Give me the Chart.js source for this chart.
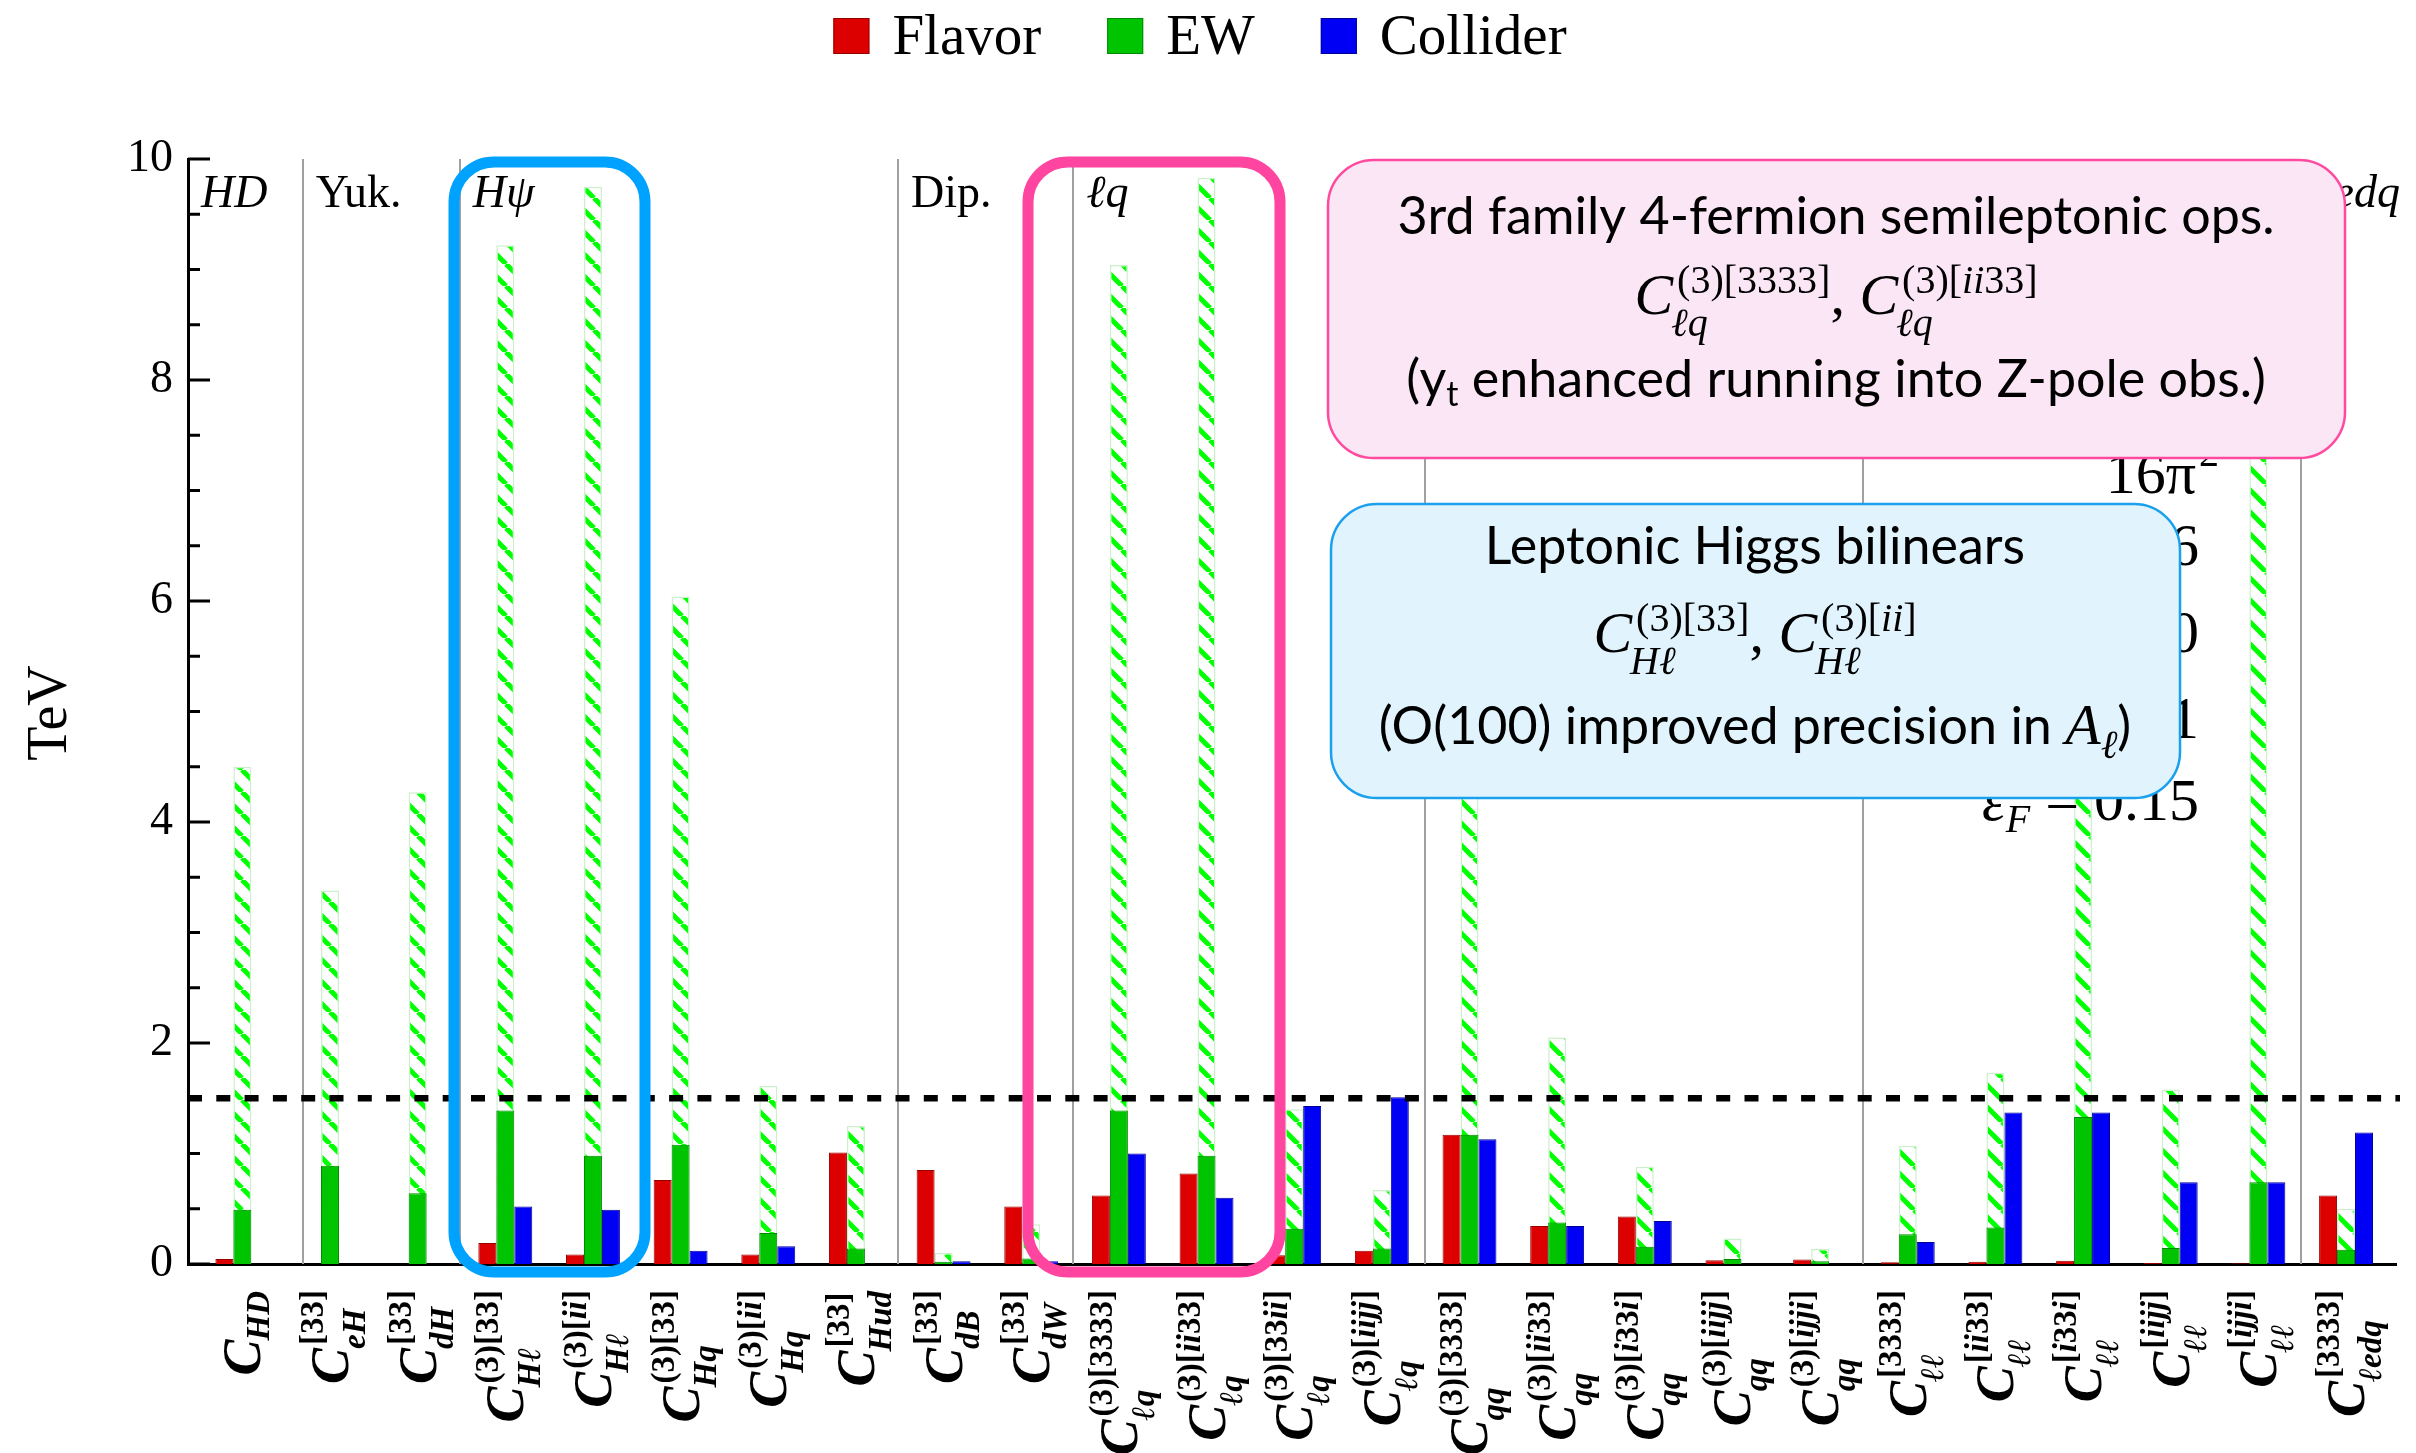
<!DOCTYPE html>
<html>
<head>
<meta charset="utf-8">
<script src="https://cdn.jsdelivr.net/npm/chart.js@4.4.1/dist/chart.umd.min.js"></script>
<style>
  html, body { margin: 0; padding: 0; background: #fff; }
</style>
</head>
<body>
<canvas id="chart" width="2416" height="1453"></canvas>
<script>
// data (TeV)
const categories = ['C_HD', 'C_eH[33]', 'C_dH[33]', 'C_Hl(3)[33]', 'C_Hl(3)[ii]', 'C_Hq(3)[33]', 'C_Hq(3)[ii]',
  'C_Hud[33]', 'C_dB[33]', 'C_dW[33]', 'C_lq(3)[3333]', 'C_lq(3)[ii33]', 'C_lq(3)[33ii]', 'C_lq(3)[iijj]',
  'C_qq(3)[3333]', 'C_qq(3)[ii33]', 'C_qq(3)[i33i]', 'C_qq(3)[iijj]', 'C_qq(3)[ijji]',
  'C_ll[3333]', 'C_ll[ii33]', 'C_ll[i33i]', 'C_ll[iijj]', 'C_ll[ijji]', 'C_ledq[3333]'];
const catSub = ['HD', 'eH', 'dH', 'Hℓ', 'Hℓ', 'Hq', 'Hq', 'Hud', 'dB', 'dW', 'ℓq', 'ℓq', 'ℓq', 'ℓq',
  'qq', 'qq', 'qq', 'qq', 'qq', 'ℓℓ', 'ℓℓ', 'ℓℓ', 'ℓℓ', 'ℓℓ', 'ℓedq'];
const catSup = ['', '[33]', '[33]', '(3)[33]', '(3)[ii]', '(3)[33]', '(3)[ii]', '[33]', '[33]', '[33]',
  '(3)[3333]', '(3)[ii33]', '(3)[33ii]', '(3)[iijj]', '(3)[3333]', '(3)[ii33]', '(3)[i33i]', '(3)[iijj]', '(3)[ijji]',
  '[3333]', '[ii33]', '[i33i]', '[iijj]', '[ijji]', '[3333]'];

const flavor   = [0.045, 0, 0, 0.19, 0.085, 0.76, 0.085, 1.01, 0.85, 0.52, 0.62, 0.82, 0.08, 0.12,
  1.17, 0.345, 0.43, 0.033, 0.04, 0.015, 0.02, 0.03, 0.01, 0.006, 0.62];
const ew       = [0.49, 0.89, 0.64, 1.39, 0.98, 1.08, 0.28, 0.14, 0.02, 0.05, 1.39, 0.98, 0.32, 0.14,
  1.17, 0.375, 0.155, 0.045, 0.025, 0.27, 0.33, 1.33, 0.145, 0.74, 0.13];
const collider = [0, 0, 0, 0.52, 0.49, 0.12, 0.16, 0, 0.025, 0.025, 1.0, 0.6, 1.43, 1.51,
  1.13, 0.345, 0.39, 0, 0, 0.2, 1.37, 1.37, 0.74, 0.74, 1.19];
const ewFuture = [4.5, 3.38, 4.27, 9.22, 9.75, 6.04, 1.61, 1.25, 0.10, 0.36, 9.04, 9.83, 1.40, 0.67,
  5.5, 2.05, 0.88, 0.23, 0.136, 1.07, 1.73, 5.0, 1.58, 8.3, 0.50];

const seriesNames = ['Flavor', 'EW', 'Collider'];
const threshold = 1.5;

// operator classes: name + where the class starts (category units)
const groupNames  = ['HD', 'Yuk.', 'Hψ', 'Dip.', 'ℓq', 'qq', 'ℓℓ', 'ℓedq'];
const groupItalic = [true, false, true, false, true, true, true, true];
const groupStarts = [-0.62, 0.69, 2.48, 7.48, 9.48, 13.49, 18.49, 23.49];

const RED = '#dd0000', GREEN = '#00c400', BLUE = '#0000f5';
const SERIF = '"Liberation Serif","DejaVu Serif",serif';
const SANS = 'Lato,"Open Sans",sans-serif';

function fontStr(size, italic, bold, fam) {
  return (italic ? 'italic ' : '') + (bold ? 'bold ' : '') + size + 'px ' + (fam || SERIF);
}

const canvas = document.getElementById('chart');
const ctx = canvas.getContext('2d');

// green hatching for the projected EW reach
function makeHatch() {
  const s = 22;
  const c = document.createElement('canvas');
  c.width = c.height = s;
  const g = c.getContext('2d');
  g.fillStyle = '#fff';
  g.fillRect(0, 0, s, s);
  g.strokeStyle = '#00ff00';
  g.lineWidth = 5;
  g.beginPath();
  for (const k of [-s, 0, s]) { g.moveTo(k, 0); g.lineTo(k + s, s); }
  g.stroke();
  return ctx.createPattern(c, 'repeat');
}

// text with letters in italic and digits/brackets upright
function mixed(c, text, x, y, size, bold, draw) {
  const runs = [];
  for (const ch of text) {
    const it = /[A-Za-zℓψπε]/.test(ch);
    if (runs.length && runs[runs.length - 1].it === it) runs[runs.length - 1].t += ch;
    else runs.push({ t: ch, it });
  }
  let w = 0;
  for (const r of runs) {
    c.font = fontStr(size, r.it, bold);
    if (draw) c.fillText(r.t, x + w, y);
    w += c.measureText(r.t).width;
  }
  return w;
}

// C with super- and subscript stacked
function scriptC(c, x, y, s, draw) {
  c.font = fontStr(s.size, true, s.bold);
  const wb = c.measureText(s.base).width;
  if (draw) c.fillText(s.base, x, y);
  const xs = x + wb;
  const sh = s.supShift || 0;
  const wsup = s.sup ? mixed(c, s.sup, xs + sh, y - s.rise, s.ssize, s.bold, draw) + sh : 0;
  const wsub = s.sub ? mixed(c, s.sub, xs - (s.subShift || 0), y + (s.sup ? s.drop : s.drop0), s.ssize, s.bold, draw) : 0;
  return wb + Math.max(wsup, wsub);
}

function rich(c, parts, x, y, draw) {
  let w = 0;
  for (const p of parts) {
    if (p.c) { w += scriptC(c, x + w, y, p.c, draw); continue; }
    c.font = p.font;
    if (draw) c.fillText(p.t, x + w, y + (p.dy || 0));
    w += c.measureText(p.t).width;
  }
  return w;
}

function richAt(c, parts, x, y, align) {
  const w = rich(c, parts, 0, y, false);
  const x0 = align === 'center' ? x - w / 2 : align === 'right' ? x - w : x;
  rich(c, parts, x0, y, true);
}

function roundRect(c, x0, y0, x1, y1, r) {
  c.beginPath();
  c.moveTo(x0 + r, y0);
  c.lineTo(x1 - r, y0);
  c.arcTo(x1, y0, x1, y0 + r, r);
  c.lineTo(x1, y1 - r);
  c.arcTo(x1, y1, x1 - r, y1, r);
  c.lineTo(x0 + r, y1);
  c.arcTo(x0, y1, x0, y1 - r, r);
  c.lineTo(x0, y0 + r);
  c.arcTo(x0, y0, x0 + r, y0, r);
  c.closePath();
}

const decor = {
  id: 'decor',
  beforeDatasetsDraw(chart) {
    const { ctx: c, scales: { x, y } } = chart;
    c.save();
    c.strokeStyle = '#a0a0a0';
    c.lineWidth = 2;
    groupStarts.slice(1).forEach(v => {
      const px = Math.round(x.getPixelForValue(v));
      c.beginPath();
      c.moveTo(px, y.getPixelForValue(0));
      c.lineTo(px, y.getPixelForValue(10));
      c.stroke();
    });
    c.restore();
  },
  afterDatasetsDraw(chart) {
    const { ctx: c, chartArea: a, scales: { x, y } } = chart;
    c.save();

    // threshold line
    c.strokeStyle = '#000';
    c.lineWidth = 6.5;
    c.setLineDash([14, 14.3]);
    c.beginPath();
    const yt = y.getPixelForValue(threshold);
    c.moveTo(a.left, yt);
    c.lineTo(a.right + 4, yt);
    c.stroke();
    c.setLineDash([]);

    // inward ticks on the value axis
    c.lineWidth = 3;
    for (let v = 0; v <= 10; v += 0.5) {
      const py = y.getPixelForValue(v);
      const len = v % 2 === 0 ? 22 : 12;
      c.beginPath();
      c.moveTo(a.left, py);
      c.lineTo(a.left + len, py);
      c.stroke();
    }

    // class names
    c.fillStyle = '#000';
    c.textBaseline = 'alphabetic';
    c.textAlign = 'left';
    groupNames.forEach((n, i) => {
      const px = Math.max(a.left, x.getPixelForValue(groupStarts[i])) + 13;
      c.font = fontStr(46, groupItalic[i], false);
      c.fillText(n, px, 207);
    });

    // parameter notes (mostly hidden behind the boxes)
    c.font = fontStr(60, false, false);
    c.textAlign = 'right';
    c.fillText('16π', 2196, 493);
    c.font = fontStr(40, false, false);
    c.fillText('2', 2219, 466);
    c.font = fontStr(60, false, false);
    c.fillText('6', 2199, 565);
    c.fillText('10', 2199, 652);
    c.fillText('1', 2199, 738);
    c.textAlign = 'left';
    richAt(c, [
      { t: 'ε', font: fontStr(60, true, false) },
      { t: 'F', font: fontStr(40, true, false), dy: 12 },
      { t: ' = 0.15', font: fontStr(60, false, false) }
    ], 2199, 820, 'right');

    // highlight frames
    c.lineWidth = 11;
    c.strokeStyle = '#00a2ff';
    roundRect(c, 454, 162, 645, 1272, 40);
    c.stroke();
    c.strokeStyle = '#ff45a0';
    roundRect(c, 1028, 162, 1280, 1272, 40);
    c.stroke();

    // annotation boxes
    c.lineWidth = 2.5;
    roundRect(c, 1328, 160, 2345, 458, 46);
    c.fillStyle = '#fbe6f5';
    c.fill();
    c.strokeStyle = '#ff4aa0';
    c.stroke();
    roundRect(c, 1331, 504, 2180, 798, 46);
    c.fillStyle = '#e1f4fd';
    c.fill();
    c.strokeStyle = '#1ba0ee';
    c.stroke();

    c.fillStyle = '#000';
    c.font = '48px ' + SANS;
    const sz = Math.round(48 * 875 / c.measureText('3rd family 4-fermion semileptonic ops.').width);
    const sans = fontStr(sz, false, false, SANS);
    const boxC = (sup, sub) => ({ c: { base: 'C', sup, sub, size: 58, ssize: 40, bold: false, rise: 21, drop: 22, supShift: 4, subShift: 2 } });
    const comma = { t: ', ', font: fontStr(58, false, false) };

    richAt(c, [{ t: '3rd family 4-fermion semileptonic ops.', font: sans }], 1836, 234, 'center');
    richAt(c, [boxC('(3)[3333]', 'ℓq'), comma, boxC('(3)[ii33]', 'ℓq')], 1836, 314, 'center');
    richAt(c, [
      { t: '(y', font: sans },
      { t: 't', font: fontStr(Math.round(sz * 0.65), false, false, SANS), dy: 9 },
      { t: ' enhanced running into Z-pole obs.)', font: sans }
    ], 1836, 397, 'center');

    richAt(c, [{ t: 'Leptonic Higgs bilinears', font: sans }], 1755, 564, 'center');
    richAt(c, [boxC('(3)[33]', 'Hℓ'), comma, boxC('(3)[ii]', 'Hℓ')], 1755, 652, 'center');
    richAt(c, [
      { t: '(O(100) improved precision in ', font: sans },
      { t: 'A', font: fontStr(58, true, false) },
      { t: 'ℓ', font: fontStr(40, true, false), dy: 14 },
      { t: ')', font: sans }
    ], 1755, 744, 'center');

    c.restore();
  },
  afterDraw(chart) {
    const { ctx: c, scales: { x } } = chart;
    c.save();
    c.fillStyle = '#000';
    c.textBaseline = 'alphabetic';
    c.textAlign = 'left';

    // rotated operator labels
    categories.forEach((name, i) => {
      const spec = { base: 'C', sup: catSup[i], sub: catSub[i], size: 54, ssize: 33, bold: true,
        rise: 25, drop: 17, drop0: 9, supShift: 3, subShift: 1 };
      const w = scriptC(c, 0, 0, spec, false);
      c.save();
      c.translate(x.getPixelForValue(i), 1290);
      c.rotate(-Math.PI / 2);
      scriptC(c, -w, 18, spec, true);
      c.restore();
    });

    // axis title
    c.save();
    c.translate(51, 713);
    c.rotate(-Math.PI / 2);
    c.font = fontStr(56, false, false);
    c.textAlign = 'center';
    c.textBaseline = 'middle';
    c.fillText('TeV', 0, 0);
    c.restore();

    // legend
    const colors = [RED, GREEN, BLUE];
    const edges = ['#990000', '#008800', '#000099'];
    c.font = fontStr(57, false, false);
    const widths = seriesNames.map(n => c.measureText(n).width);
    const total = widths.reduce((s, w) => s + 36 + 23 + w, 0) + 66 * (seriesNames.length - 1);
    let lx = 1200 - total / 2;
    seriesNames.forEach((n, i) => {
      c.fillStyle = colors[i];
      c.fillRect(lx, 18, 36, 36);
      c.strokeStyle = edges[i];
      c.lineWidth = 1;
      c.strokeRect(lx + 0.5, 18.5, 35, 35);
      c.fillStyle = '#000';
      c.fillText(n, lx + 59, 54);
      lx += 59 + widths[i] + 66;
    });
    c.restore();
  }
};

const xy = arr => arr.map((v, i) => ({ x: i, y: v }));

new Chart(ctx, {
  type: 'bar',
  data: {
    datasets: [
      { label: seriesNames[0], data: xy(flavor), backgroundColor: RED, borderColor: '#990000', borderWidth: 1, order: 1 },
      { label: seriesNames[1], data: xy(ew), backgroundColor: GREEN, borderColor: '#008800', borderWidth: 1, order: 1 },
      { label: seriesNames[2], data: xy(collider), backgroundColor: BLUE, borderColor: '#000099', borderWidth: 1, order: 1 },
      { label: 'EW (future)', data: xy(ewFuture), backgroundColor: makeHatch(), borderColor: '#ccefcc',
        borderWidth: 1.5, grouped: false, barPercentage: 1 / 3, order: 2 }
    ]
  },
  options: {
    responsive: false,
    animation: false,
    layout: { padding: { top: 159, left: 10, right: 20, bottom: 0 } },
    datasets: { bar: { categoryPercentage: 0.615, barPercentage: 1 } },
    plugins: { legend: { display: false }, tooltip: { enabled: false } },
    scales: {
      x: {
        type: 'linear',
        min: -0.62,
        max: 24.57,
        offset: false,
        grid: { display: false, drawTicks: false },
        ticks: { display: false },
        border: { color: '#000', width: 3 },
        // one tick per operator so the bar width follows the category spacing
        afterBuildTicks(s) { s.ticks = categories.map((_, i) => ({ value: i })); },
        afterFit(s) { s.height = 189; }
      },
      y: {
        min: 0,
        max: 10,
        ticks: { stepSize: 2, color: '#000', padding: 15, font: { family: SERIF, size: 46 } },
        grid: { display: false, drawTicks: false },
        border: { color: '#000', width: 3 },
        afterFit(s) { s.width = 178; }
      }
    }
  },
  plugins: [decor]
});
</script>
</body>
</html>
